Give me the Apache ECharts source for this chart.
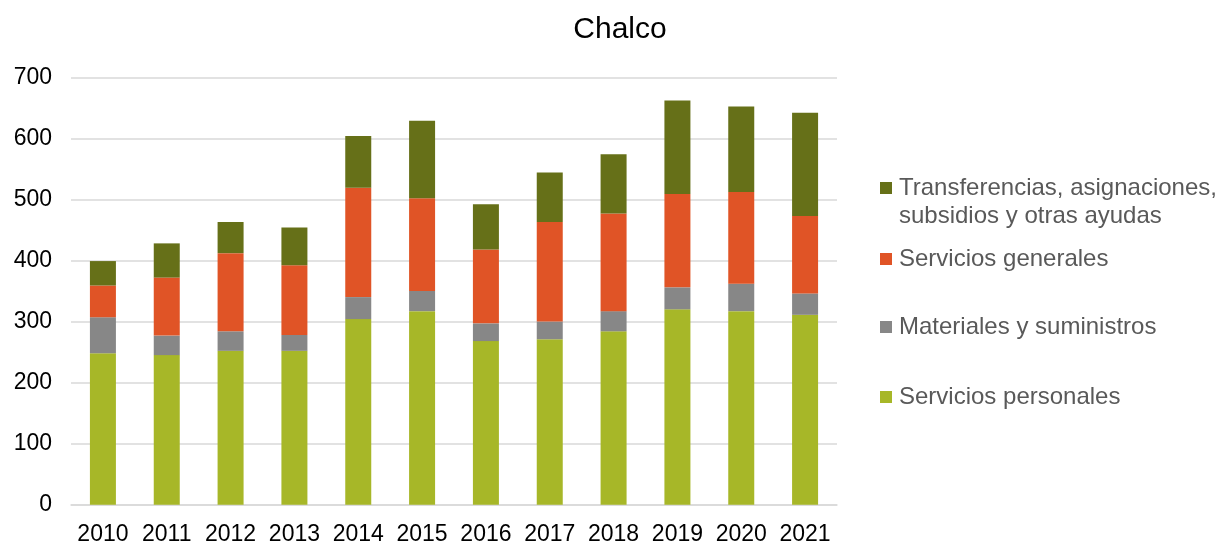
<!DOCTYPE html>
<html><head><meta charset="utf-8">
<script src="https://cdn.jsdelivr.net/npm/echarts@6/dist/echarts.min.js"></script>
<style>html,body{margin:0;padding:0;background:#fff}#c{width:1223px;height:546px}</style>
</head><body><div id="c"></div>
<script>
const categories = ['2010','2011','2012','2013','2014','2015','2016','2017','2018','2019','2020','2021'];
const serviciosPersonales = [248,245,252,252,304,317,268,271,284,320,317,311];
const materiales = [59,32,32,26,36,33,29,29,33,36,45,35];
const serviciosGenerales = [52,95,128,114,179,152,121,163,160,153,150,127];
const transferencias = [40,56,51,62,85,127,74,81,97,153,140,169];
const seriesNames = ['Servicios personales','Materiales y suministros','Servicios generales','Transferencias, asignaciones,\nsubsidios y otras ayudas'];
const colors = ['#A7B728','#878787','#E05426','#667018'];
const yTicks = [0,100,200,300,400,500,600,700];

const font = 'Liberation Sans, Arial, sans-serif';
const dataSets = [serviciosPersonales, materiales, serviciosGenerales, transferencias];
const legendTops = [378, 308, 240, 169];
const chart = echarts.init(document.getElementById('c'));
chart.setOption({
  animation:false,
  title:{text:'Chalco',left:615,top:10,textAlign:'center',textStyle:{fontFamily:font,fontSize:30,fontWeight:'normal',color:'#000'}},
  grid:{left:71,right:386,top:77.3,bottom:41.3,containLabel:false},
  legend: seriesNames.map((n,i)=>({
    data:[n], left:875, top:legendTops[i], orient:'vertical',
    itemWidth:12,itemHeight:i===3?40:12,itemGap:8,
    icon: i===3 ? 'path://M0,0h12v12h-12z M0,40h0.001v0.001h-0.001z' : 'rect',
    textStyle:{fontFamily:font,fontSize:24,color:'#595959',lineHeight:28,padding:[0,0,0,2]}
  })),
  xAxis:{type:'category',data:categories,
    axisLine:{lineStyle:{color:'#d9d9d9',width:1.5}},axisTick:{show:false},
    axisLabel:{interval:0,hideOverlap:false,fontFamily:font,fontSize:23,color:'#000',margin:18}},
  yAxis:{type:'value',min:yTicks[0],max:yTicks[yTicks.length-1],interval:100,
    axisLine:{show:false},axisTick:{show:false},
    splitLine:{lineStyle:{color:'#d9d9d9',width:1.5}},
    axisLabel:{fontFamily:font,fontSize:23,color:'#000',margin:19}},
  series: dataSets.map((d,i)=>({
    name:seriesNames[i],type:'bar',stack:'total',data:d,barWidth:26,
    itemStyle:{color:colors[i]}
  }))
});
</script></body></html>
